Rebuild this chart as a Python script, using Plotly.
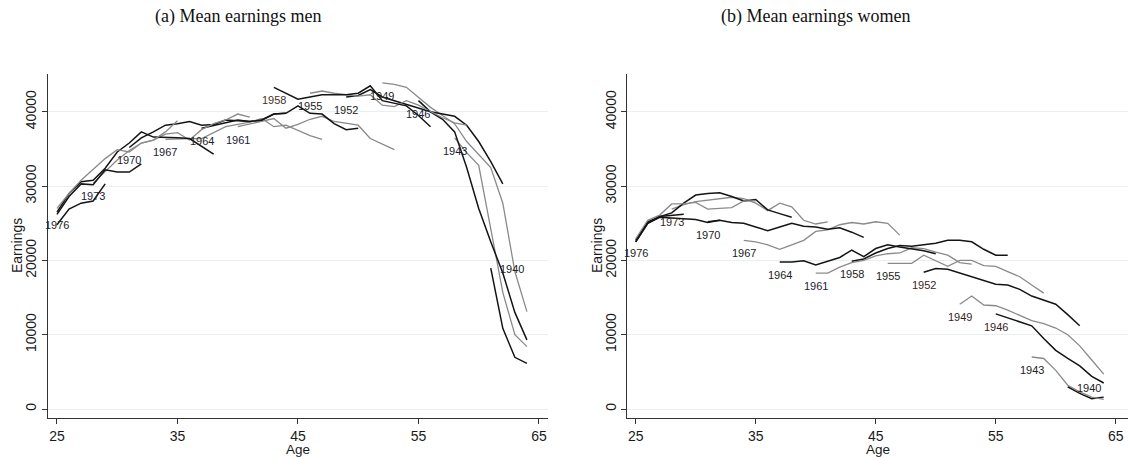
import plotly.graph_objects as go

# ---------------- data ----------------
cohorts = [1940, 1943, 1946, 1949, 1952, 1955, 1958, 1961, 1964, 1967, 1970, 1973, 1976, 1979, 1982, 1985]
start_ages = [61, 58, 55, 52, 49, 46, 43, 40, 37, 34, 31, 28, 25, 25, 25, 25]
labelled = [1940, 1943, 1946, 1949, 1952, 1955, 1958, 1961, 1964, 1967, 1970, 1973, 1976]
shade = ["black", "gray", "black", "gray", "black", "gray", "black", "gray",
         "black", "gray", "black", "gray", "black", "gray", "black", "black"]

# Men: mean earnings by age for each cohort (first value at start age)
m1940 = [18950, 10850, 6960, 6150]
m1943 = [36500, 34500, 32800, 24500, 15700, 10000, 8400]
m1946 = [41500, 40000, 39000, 37300, 32500, 27000, 22500, 18300, 13000, 9300]
m1949 = [43900, 43700, 43300, 42000, 40600, 39500, 38400, 36000, 34200, 32500, 27700, 18500, 13100]
m1952 = [42000, 42200, 43000, 42000, 41500, 41000, 40500, 40000, 39700, 39400, 38200, 36000, 33300, 30300]
m1955 = [42500, 42800, 42500, 42300, 42100, 42300, 40900, 40700, 41500, 40900, 40000, 39200, 38500, 38200]
m1958 = [43300, 42500, 41700, 42000, 42300, 42300, 42300, 42500, 43500, 41500, 41200, 40800, 39500, 38000]
m1961 = [38000, 38400, 38800, 39100, 37800, 38300, 39000, 39400, 38700, 38500, 38200, 36400, 35600, 34900]
m1964 = [37800, 38200, 38600, 38900, 38700, 38900, 39700, 39800, 40800, 39800, 39700, 38400, 37600, 37800]
m1967 = [36300, 36400, 36400, 36400, 37200, 38000, 38300, 38600, 39100, 38000, 38200, 37500, 36800, 36300]
m1970 = [35200, 36500, 37300, 38200, 38400, 38700, 38200, 38300, 38900, 38800, 38700, 38900, 39700, 39800]
m1973 = [30400, 32000, 33500, 34800, 35800, 36200, 37000, 37200, 36200, 37600, 38400, 38900, 39700, 39300]
m1976 = [26500, 29000, 30600, 30800, 32400, 34600, 35800, 37300, 36600, 36600, 36500, 36400, 35300, 34300]
m1979 = [27000, 29000, 30800, 32200, 33700, 34900, 34600, 35800, 36200, 37300, 38800]
m1982 = [26200, 28600, 30300, 30200, 32200, 31900, 31900, 33000]
m1985 = [24800, 26900, 27700, 28000, 30300]

# Women
w1940 = [3000, 2100, 1400, 1600]
w1943 = [7000, 6800, 5200, 3200, 2300, 1600, 1300]
w1946 = [12800, 12300, 11800, 11200, 9500, 7900, 6800, 5800, 4400, 3500]
w1949 = [14100, 15200, 14000, 13900, 13300, 12600, 11900, 11500, 10900, 10000, 8500, 6600, 4700]
w1952 = [18400, 18900, 18800, 18300, 17800, 17300, 16800, 16700, 16100, 15200, 14700, 14100, 12700, 11200]
w1955 = [19600, 19600, 19600, 20700, 20000, 19200, 20000, 20000, 19300, 19200, 18500, 17800, 16700, 15600]
w1958 = [19900, 20200, 21000, 21600, 22000, 21900, 22100, 22300, 22700, 22700, 22500, 21500, 20700, 20700]
w1961 = [18300, 18300, 19100, 19700, 20000, 20600, 20900, 21000, 21700, 21600, 21100, 20700, 19700, 19500]
w1964 = [19800, 19800, 19950, 19400, 19900, 20400, 21400, 20500, 21600, 22100, 21800, 21600, 21300, 20900]
w1967 = [22700, 22500, 22100, 21500, 22100, 22700, 23900, 24100, 24800, 25100, 24900, 25200, 25000, 23400]
w1970 = [25200, 25400, 25100, 25000, 24500, 24000, 24500, 25000, 24600, 24500, 24200, 24400, 23800, 23100]
w1973 = [26900, 27500, 27900, 28100, 28400, 28500, 28300, 27700, 26700, 27700, 27200, 25400, 24900, 25200]
w1976 = [22700, 25200, 25900, 26400, 27700, 28800, 29000, 29100, 28600, 28000, 28200, 26800, 26300, 25800]
w1979 = [22900, 25400, 26100, 27600, 27600, 27800, 26900, 27000, 27100, 28000, 28000]
w1982 = [22500, 25000, 25800, 25700, 25700, 25500, 25100, 25400]
w1985 = [22500, 25000, 25900, 26100, 26200]

men_series = [m1940, m1943, m1946, m1949, m1952, m1955, m1958, m1961,
              m1964, m1967, m1970, m1973, m1976, m1979, m1982, m1985]
women_series = [w1940, w1943, w1946, w1949, w1952, w1955, w1958, w1961,
                w1964, w1967, w1970, w1973, w1976, w1979, w1982, w1985]

x_ticks = [25, 35, 45, 55, 65]
y_ticks = [0, 10000, 20000, 30000, 40000]

# ---------------- styling ----------------
LINE_COL = {"black": "#141414", "gray": "#8a8a8a"}
LINE_W = {"black": 1.5, "gray": 1.3}
NAVY, MAROON, DARK, BROWN = "#1b2032", "#3a1e1e", "#222222", "#45321f"
men_label_col = {1976: DARK, 1973: NAVY, 1970: NAVY, 1967: NAVY, 1964: DARK, 1961: NAVY,
                 1958: BROWN, 1955: DARK, 1952: DARK, 1949: DARK, 1946: NAVY, 1943: NAVY,
                 1940: DARK}
women_label_col = {1976: DARK, 1973: MAROON, 1970: DARK, 1967: DARK, 1964: DARK, 1961: NAVY,
                   1958: DARK, 1955: DARK, 1952: MAROON, 1949: MAROON, 1946: MAROON,
                   1943: DARK, 1940: DARK}

W, H = 1128, 457
fig = go.Figure()

panels = [("x", "y", men_series, men_label_col), ("x2", "y2", women_series, women_label_col)]
annotations = []
for xa, ya, series, lcol in panels:
    for c, s, vals, sh in zip(cohorts, start_ages, series, shade):
        ages = list(range(s, s + len(vals)))
        fig.add_trace(go.Scatter(x=ages, y=vals, mode="lines", xaxis=xa, yaxis=ya,
                                 line=dict(color=LINE_COL[sh], width=LINE_W[sh]),
                                 showlegend=False, hoverinfo="skip"))
        if c in labelled:
            lab_font = dict(size=11, color=lcol[c], family="Liberation Sans, Arial")
            if c == 1940:
                annotations.append(dict(x=s, y=vals[0], xref=xa, yref=ya, text=str(c),
                                        showarrow=False, xanchor="left", yanchor="middle",
                                        xshift=7, yshift=-1, font=lab_font))
            else:
                annotations.append(dict(x=s, y=vals[0], xref=xa, yref=ya, text=str(c),
                                        showarrow=False, xanchor="center", yanchor="middle",
                                        yshift=-13, font=lab_font))

axis_font = dict(size=14, color="#1a1a1a", family="Liberation Sans, Arial")
common_x = dict(tickvals=x_ticks, ticks="outside", ticklen=5, tickcolor="#333333", tickwidth=1,
                showline=True, linecolor="#333333", linewidth=1, showgrid=False, zeroline=False,
                tickfont=axis_font, fixedrange=True)
common_y = dict(tickvals=y_ticks, tickformat="d", tickangle=-90, ticks="outside", ticklen=5,
                tickcolor="#333333", tickwidth=1, showline=True, linecolor="#333333", linewidth=1,
                showgrid=True, gridcolor="#e8f0f1", gridwidth=1, zeroline=False,
                tickfont=axis_font, range=[-1170, 45090], fixedrange=True)

ydom = [1 - 417.7 / H, 1 - 74 / H]
fig.update_layout(
    width=W, height=H,
    margin=dict(l=0, r=0, t=0, b=0),
    paper_bgcolor="white", plot_bgcolor="white",
    xaxis=dict(domain=[47.7 / W, 548 / W], range=[24.23, 65.75], anchor="y", **common_x),
    yaxis=dict(domain=ydom, anchor="x", **common_y),
    xaxis2=dict(domain=[627.3 / W, 1127.5 / W], range=[24.3, 65.98], anchor="y2", **common_x),
    yaxis2=dict(domain=ydom, anchor="x2", **common_y),
)

title_font = dict(size=18, color="#111111", family="Liberation Serif, Times New Roman")
age_font = dict(size=13.5, color="#1a1a1a", family="Liberation Sans, Arial")
annotations += [
    dict(text="(a) Mean earnings men", x=238 / W, y=1 - 17 / H, xref="paper", yref="paper",
         showarrow=False, xanchor="center", yanchor="middle", font=title_font),
    dict(text="(b) Mean earnings women", x=815.5 / W, y=1 - 17 / H, xref="paper", yref="paper",
         showarrow=False, xanchor="center", yanchor="middle", font=title_font),
    dict(text="Age", x=298 / W, y=0, xref="paper", yref="paper",
         showarrow=False, xanchor="center", yanchor="bottom", yshift=-2, font=age_font),
    dict(text="Age", x=877.5 / W, y=0, xref="paper", yref="paper",
         showarrow=False, xanchor="center", yanchor="bottom", yshift=-2, font=age_font),
    dict(text="Earnings", x=17 / W, y=1 - 246 / H, xref="paper", yref="paper", textangle=-90,
         showarrow=False, xanchor="center", yanchor="middle", font=axis_font),
    dict(text="Earnings", x=597 / W, y=1 - 246 / H, xref="paper", yref="paper", textangle=-90,
         showarrow=False, xanchor="center", yanchor="middle", font=axis_font),
]
fig.update_layout(annotations=annotations)

fig.write_html("out.html",
               config={"displayModeBar": False},
               post_script="document.body.style.margin='0';document.body.style.overflow='hidden';")
